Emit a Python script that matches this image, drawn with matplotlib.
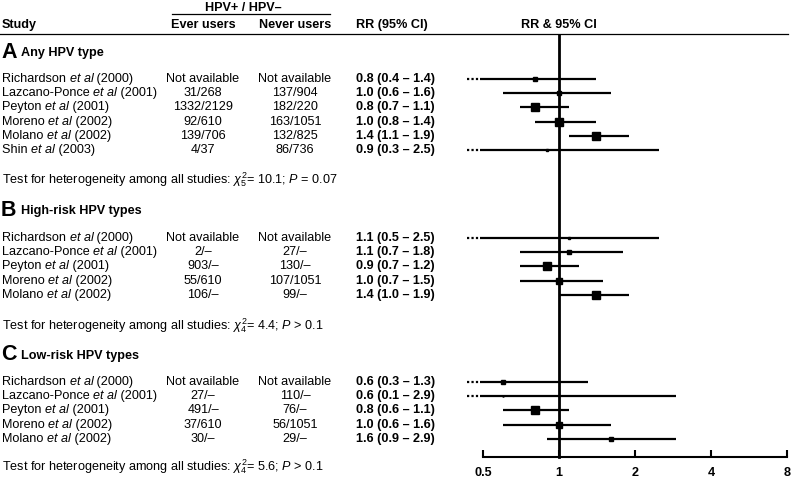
import numpy as np
import matplotlib
matplotlib.use('Agg')
import matplotlib.pyplot as plt

plt.rcParams['font.family'] = ['Liberation Sans', 'DejaVu Sans']
plt.rcParams['mathtext.fontset'] = 'custom'
plt.rcParams['mathtext.rm'] = 'Liberation Sans'
plt.rcParams['mathtext.it'] = 'Liberation Sans:italic'
plt.rcParams['mathtext.bf'] = 'Liberation Sans:bold'

# ---- data ----
section_letters = ['A', 'B', 'C']
section_titles = ['Any HPV type', 'High-risk HPV types', 'Low-risk HPV types']

studies_a = ['Richardson', 'Lazcano-Ponce', 'Peyton', 'Moreno', 'Molano', 'Shin']
years_a = [2000, 2001, 2001, 2002, 2002, 2003]
ever_a = ['Not available', '31/268', '1332/2129', '92/610', '139/706', '4/37']
never_a = ['Not available', '137/904', '182/220', '163/1051', '132/825', '86/736']
rr_a = [0.8, 1.0, 0.8, 1.0, 1.4, 0.9]
lo_a = [0.4, 0.6, 0.7, 0.8, 1.1, 0.3]
hi_a = [1.4, 1.6, 1.1, 1.4, 1.9, 2.5]
weight_a = [3, 4, 8, 7, 7, 2]

studies_b = ['Richardson', 'Lazcano-Ponce', 'Peyton', 'Moreno', 'Molano']
years_b = [2000, 2001, 2001, 2002, 2002]
ever_b = ['Not available', '2/\u2013', '903/\u2013', '55/610', '106/\u2013']
never_b = ['Not available', '27/\u2013', '130/\u2013', '107/1051', '99/\u2013']
rr_b = [1.1, 1.1, 0.9, 1.0, 1.4]
lo_b = [0.5, 0.7, 0.7, 0.7, 1.0]
hi_b = [2.5, 1.8, 1.2, 1.5, 1.9]
weight_b = [2, 4, 8, 6, 7]

studies_c = ['Richardson', 'Lazcano-Ponce', 'Peyton', 'Moreno', 'Molano']
years_c = [2000, 2001, 2001, 2002, 2002]
ever_c = ['Not available', '27/\u2013', '491/\u2013', '37/610', '30/\u2013']
never_c = ['Not available', '110/\u2013', '76/\u2013', '56/1051', '29/\u2013']
rr_c = [0.6, 0.6, 0.8, 1.0, 1.6]
lo_c = [0.3, 0.1, 0.6, 0.6, 0.9]
hi_c = [1.3, 2.9, 1.1, 1.6, 2.9]
weight_c = [3, 1, 8, 5, 3]

het_df = [5, 4, 4]
het_chi2 = [10.1, 4.4, 5.6]
het_p = ['= 0.07', '> 0.1', '> 0.1']

ticks = [0.5, 1, 2, 4, 8]
tick_labels = ['0.5', '1', '2', '4', '8']

# ---- layout (pixels) ----
W, H = 791, 480
header_y = [52, 210, 355]
first_row_y = [79, 238, 382]
test_y = [180, 326, 467]
row_step = 14.2
axis_y = 457
x_ever, x_never, x_rr = 203, 295, 356
fs = 9.1

fig = plt.figure(figsize=(W / 100, H / 100), dpi=100)
ax = fig.add_axes([0, 0, 1, 1])
ax.set_xlim(0, W)
ax.set_ylim(H, 0)
ax.axis('off')
renderer = fig.canvas.get_renderer()


def pieces(x, y, parts):
    # write text pieces one after another, each (string, style)
    for s, style in parts:
        t = ax.text(x, y, s, ha='left', va='center', fontsize=fs, fontstyle=style)
        x += t.get_window_extent(renderer).width


# forest panel: x in log2 RR, y shares pixel rows
x0 = 460
fx = fig.add_axes([x0 / W, 0, (W - x0) / W, 1])
fx.patch.set_alpha(0)
fx.set_xscale('log', base=2)
fx.set_xlim(2 ** ((x0 - 559) / 76), 2 ** ((W - 559) / 76))
fx.set_ylim(H, 0)

# header
ax.text(243, 8, 'HPV+ / HPV\u2013', ha='center', va='center', fontsize=fs, fontweight='bold')
ax.plot([172, 330], [13.5, 13.5], color='black', lw=0.9)
ax.text(2, 25, 'Study', ha='left', va='center', fontsize=fs, fontweight='bold')
ax.text(x_ever, 25, 'Ever users', ha='center', va='center', fontsize=fs, fontweight='bold')
ax.text(x_never, 25, 'Never users', ha='center', va='center', fontsize=fs, fontweight='bold')
ax.text(x_rr, 25, 'RR (95% CI)', ha='left', va='center', fontsize=fs, fontweight='bold')
ax.text(559, 25, 'RR & 95% CI', ha='center', va='center', fontsize=fs, fontweight='bold')
ax.plot([0, 788], [33.5, 33.5], color='black', lw=0.9)

sections = [
    (studies_a, years_a, ever_a, never_a, rr_a, lo_a, hi_a, weight_a),
    (studies_b, years_b, ever_b, never_b, rr_b, lo_b, hi_b, weight_b),
    (studies_c, years_c, ever_c, never_c, rr_c, lo_c, hi_c, weight_c),
]

for k, (studies, years, ever, never, rr, lo, hi, weight) in enumerate(sections):
    ax.text(1, header_y[k], section_letters[k], ha='left', va='center', fontsize=15.5, fontweight='bold')
    ax.text(21, header_y[k] + 1, section_titles[k], ha='left', va='center', fontsize=fs, fontweight='bold')
    ys = first_row_y[k] + row_step * np.arange(len(studies))
    for i, y in enumerate(ys):
        pieces(2, y, [(studies[i] + ' ', 'normal'), ('et al', 'italic'),
                      (' (' + str(years[i]) + ')', 'normal')])
        ax.text(x_ever, y, ever[i], ha='center', va='center', fontsize=fs)
        ax.text(x_never, y, never[i], ha='center', va='center', fontsize=fs)
        ax.text(x_rr, y, '%.1f (%.1f \u2013 %.1f)' % (rr[i], lo[i], hi[i]),
                ha='left', va='center', fontsize=fs, fontweight='bold')
        # confidence interval, truncated below 0.5
        if lo[i] <= 0.5:
            fx.plot([0.487, hi[i]], [y, y], color='black', lw=1.6, solid_capstyle='butt')
            fx.plot([0.432, 0.487], [y, y], color='black', lw=1.6, ls=(0, (1, 1)))
        else:
            fx.plot([lo[i], hi[i]], [y, y], color='black', lw=1.6, solid_capstyle='butt')
        fx.plot(rr[i], y, marker='s', color='black', markersize=weight[i] * 0.75, zorder=5)
    ax.text(2, test_y[k], 'Test for heterogeneity among all studies: $\\chi^2_{%d}$= %.1f; $P$ %s'
            % (het_df[k], het_chi2[k], het_p[k]), ha='left', va='center', fontsize=fs)

# line of no effect
fx.plot([1, 1], [35, axis_y], color='black', lw=2)

# bottom axis
for s in ['top', 'left', 'right']:
    fx.spines[s].set_visible(False)
fx.spines['bottom'].set_position(('data', axis_y))
fx.spines['bottom'].set_bounds(0.5, 8)
fx.spines['bottom'].set_linewidth(1.5)
fx.set_xticks(ticks)
fx.set_xticklabels(tick_labels, fontweight='bold', fontsize=fs)
fx.minorticks_off()
fx.tick_params(axis='x', direction='in', length=5, width=1.5, pad=7)
fx.set_yticks([])

fig.savefig('out.png', dpi=100)
